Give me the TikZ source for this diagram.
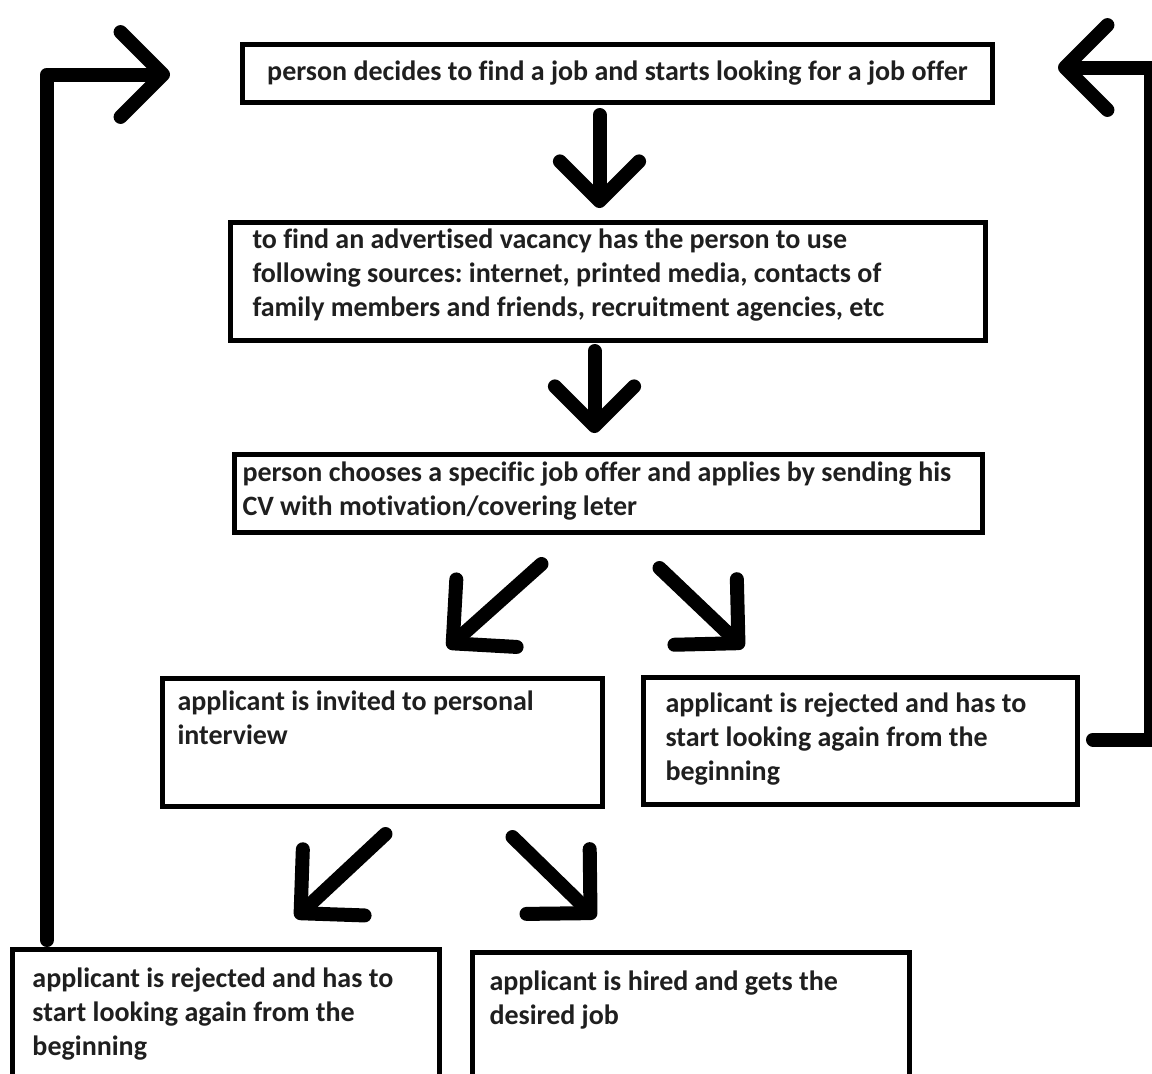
\documentclass[tikz,border=0pt]{standalone}
\usepackage{fontspec}
\setmainfont{Carlito}[Ligatures=NoCommon]
\usetikzlibrary{arrows.meta,calc}
\frenchspacing

\newcommand{\celltext}[3]{\parbox[c][#2][t]{#1}{\raggedright #3}}

\begin{document}
\begin{tikzpicture}[x=0.5pt,y=-0.5pt,
  stepbox/.style={draw,line width=2.5pt,anchor=north west,text=black!88,font=\fontsize{14}{17}\selectfont\bfseries},
  bigarrow/.style={line width=7pt,line cap=round,line join=round,-{Straight Barb[angle=90:#1,round]}}]
\useasboundingbox (0,0) rectangle (1152,1073);
\clip (0,0) rectangle (1152,1073);
\fill[white] (0,0) rectangle (1152,1073);

\node[stepbox,minimum width=375pt,minimum height=29pt] (F) at (240,42) {person decides to find a job and starts looking for a job offer};

\node[stepbox,inner xsep=11pt,inner ysep=3pt] (V) at (228,220) {\celltext{355.5pt}{53pt}{to find an advertised vacancy has the person to use\\ following sources: internet, printed media, contacts of\\ family members and friends, recruitment agencies, etc}};

\node[stepbox,inner xsep=4pt,inner ysep=3.5pt] (O) at (232,452) {\celltext{366pt}{32pt}{person chooses a specific job offer and applies by sending his\\ CV with motivation/covering leter}};

\node[stepbox,inner xsep=7.5pt,inner ysep=6pt] (I) at (160,676) {\celltext{205pt}{52pt}{applicant is invited to personal\\ interview}};

\node[stepbox,inner xsep=11pt,inner ysep=7.5pt] (R) at (641,675) {\celltext{195pt}{48.5pt}{applicant is rejected and has to\\ start looking again from the\\ beginning}};

\node[stepbox,inner xsep=10pt,inner ysep=9pt] (N) at (10,947) {\celltext{193.5pt}{54pt}{applicant is rejected and has to\\ start looking again from the\\ beginning}};

\node[stepbox,inner xsep=8.5pt,inner ysep=9pt] (H) at (470,950) {\celltext{201.5pt}{52pt}{applicant is hired and gets the\\ desired job}};

% down the chain
\draw[bigarrow=28pt] ($(F.south)+(-18,10)$) -- ($(V.north)+(-8.5,-12)$);
\draw[bigarrow=28pt] ($(V.south)+(-13.5,8)$) -- ($(O.north)+(-14,-19)$);
\draw[bigarrow=32pt] ($(O.south)+(-67,29)$) -- ($(I.north)+(65,-28)$);
\draw[bigarrow=32pt] ($(O.south)+(51,33)$) -- ($(R.north)+(-117,-27)$);
\draw[bigarrow=32pt] ($(I.south)+(3,25)$) -- ($(N.north)+(69.5,-29)$);
\draw[bigarrow=32pt] ($(I.south)+(130,28)$) -- ($(H.north)+(-95.5,-32)$);

% back to the start
\draw[bigarrow=30pt] ($(N.north west)+(37,-7)$) |- ($(F.west)+(-70,1)$);
\draw[bigarrow=30pt] ($(R.east)+(13,-1.5)$) -- ++(58,0) |- ($(F.east)+(63,-6)$);

\end{tikzpicture}
\end{document}
